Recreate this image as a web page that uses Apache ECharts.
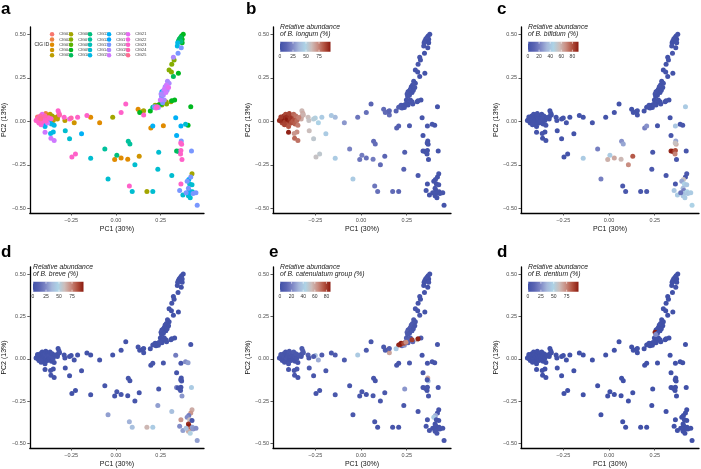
<!DOCTYPE html>
<html><head><meta charset="utf-8">
<script src="https://cdn.jsdelivr.net/npm/echarts@6/dist/echarts.min.js"></script>
<style>html,body{margin:0;padding:0;background:#fff}#c{width:701px;height:469px}</style>
</head><body><div id="c"></div>
<script>
// ---- data ----
const pc1 = [
0.376,0.367,0.361,0.370,0.354,0.349,0.363,0.345,0.370,0.343,
0.365,0.347,0.321,0.325,0.312,0.297,0.310,0.349,0.321,0.288,
0.297,0.282,0.275,0.294,0.270,0.265,0.257,0.279,0.252,0.265,
0.286,0.270,0.248,0.261,0.239,0.230,0.224,0.237,0.257,0.307,
0.328,0.283,0.252,0.255,0.215,0.206,0.219,0.234,0.246,0.279,
0.312,0.192,0.155,0.150,0.133,0.124,0.155,0.055,0.029,-0.018,
-0.091,-0.141,-0.162,-0.214,-0.250,-0.259,-0.233,-0.289,-0.285,-0.323,
-0.318,-0.325,-0.327,-0.315,-0.440,-0.436,-0.432,-0.430,-0.425,-0.422,
-0.420,-0.416,-0.412,-0.410,-0.406,-0.402,-0.400,-0.396,-0.392,-0.390,
-0.386,-0.382,-0.380,-0.376,-0.372,-0.368,-0.362,-0.360,-0.356,-0.350,
-0.345,-0.340,-0.446,-0.438,-0.418,-0.396,-0.396,-0.363,-0.345,-0.350,
-0.365,-0.283,-0.259,-0.192,-0.226,-0.246,-0.141,-0.062,-0.044,0.005,
-0.007,0.029,0.066,0.069,0.078,0.106,0.130,0.075,0.091,0.173,
0.206,0.234,0.239,0.195,0.206,0.265,0.312,0.334,0.418,0.389,
0.403,0.363,0.339,0.365,0.367,0.362,0.339,0.348,0.356,0.363,
0.361,0.369,0.422,0.425,0.418,0.407,0.398,0.412,0.425,0.363,
0.356,0.374,0.405,0.409,0.412,0.405,0.427,0.431,0.447,0.454,
0.392,0.415];
const pc2 = [
0.500,0.490,0.481,0.471,0.473,0.462,0.458,0.452,0.452,0.433,
0.423,0.391,0.368,0.352,0.328,0.295,0.284,0.276,0.257,0.230,
0.218,0.209,0.199,0.195,0.184,0.176,0.170,0.165,0.157,0.151,
0.178,0.123,0.123,0.107,0.094,0.084,0.077,0.080,0.094,0.113,
0.123,0.100,0.098,0.143,0.084,0.081,0.092,0.092,0.098,0.113,
0.118,0.059,0.036,0.056,0.050,0.069,0.060,0.100,0.050,0.023,
-0.008,0.023,0.034,0.023,0.019,0.013,-0.008,0.023,0.005,0.061,
0.046,0.027,0.013,0.036,0.010,0.000,0.020,-0.010,0.005,0.030,
0.015,-0.005,0.040,0.022,0.000,0.012,-0.018,0.030,0.045,0.002,
0.016,-0.010,0.032,0.020,0.000,0.040,0.015,-0.015,0.030,0.005,
-0.022,0.022,0.005,0.025,-0.020,-0.030,-0.063,-0.098,-0.110,-0.061,
-0.070,-0.054,-0.100,-0.071,-0.188,-0.205,-0.213,-0.159,-0.331,-0.195,
-0.220,-0.211,-0.218,-0.115,-0.130,-0.249,-0.201,-0.372,-0.404,-0.404,
-0.404,-0.276,-0.178,-0.038,-0.027,-0.025,-0.312,0.021,0.084,-0.017,
-0.023,-0.027,-0.082,-0.113,-0.132,-0.124,-0.170,-0.172,-0.176,-0.168,
-0.188,-0.220,-0.170,-0.301,-0.320,-0.335,-0.345,-0.360,-0.365,-0.360,
-0.398,-0.423,-0.385,-0.397,-0.413,-0.428,-0.405,-0.415,-0.410,-0.483,
-0.410,-0.440];
const cig = [
9,9,10,9,10,10,11,15,9,15,
18,18,19,7,7,7,7,9,10,19,
19,20,19,21,20,18,16,20,19,19,
19,19,20,18,9,23,22,19,6,6,
9,7,9,18,18,12,7,7,7,6,
9,9,23,6,9,3,6,23,23,6,
3,3,23,23,24,22,4,23,5,23,
23,5,5,24,23,22,24,23,22,24,
25,23,21,23,22,1,16,24,2,23,
22,20,3,23,16,5,23,15,6,5,
15,4,23,1,22,15,20,20,20,15,
15,14,14,16,23,23,14,12,14,11,
3,3,3,12,12,14,4,23,14,6,
14,14,14,3,16,3,14,16,9,14,
9,16,16,18,23,23,10,10,11,23,
23,23,18,6,18,16,18,14,14,23,
18,14,18,16,16,14,14,18,18,18,
18,14];
const longum = [
2,1,2,1,3,2,1,2,0,3,
2,1,3,2,4,2,3,1,2,3,
2,4,2,3,2,5,3,2,4,3,
2,4,3,5,4,6,5,4,3,3,
2,4,3,4,6,8,5,4,3,4,
3,10,15,12,14,14,12,12,16,18,
28,38,43,45,50,52,48,60,58,62,
65,68,66,63,92,95,90,88,94,91,
96,89,87,93,90,97,85,92,88,94,
90,86,89,91,84,80,86,82,78,80,
76,75,93,90,88,84,95,80,78,72,
70,60,55,45,55,58,45,22,45,20,
18,16,20,14,15,14,12,18,16,14,
12,10,8,10,9,6,5,3,2,3,
2,4,2,3,2,3,2,3,2,2,
3,2,2,3,2,3,2,2,3,2,
3,2,3,2,3,2,3,2,3,2,
3,2];
const bifidum = [
1,2,1,0,1,2,1,0,1,2,
1,3,1,2,1,0,2,1,2,1,
2,1,3,1,2,1,2,1,3,1,
1,2,1,2,1,2,1,2,1,2,
1,2,1,1,2,1,2,1,2,1,
2,1,2,1,2,1,2,1,2,1,
2,1,2,1,2,1,2,1,2,1,
2,1,2,1,2,1,2,1,2,1,
2,1,2,1,2,1,2,1,2,1,
2,1,2,1,2,1,2,1,2,1,
2,1,2,1,2,1,2,1,2,1,
2,1,2,1,2,1,42,20,20,42,
60,62,58,25,30,68,78,5,4,3,
4,5,3,20,25,2,3,2,42,2,
3,40,3,30,60,55,88,91,85,80,
70,3,3,5,3,55,30,45,40,3,
40,42,35,20,38,40,45,40,42,45,
15,42];
const breve = [
1,0,1,2,1,0,1,2,1,1,
0,2,1,1,2,1,1,0,1,2,
1,1,2,1,1,2,1,0,2,1,
1,2,1,2,1,2,1,1,2,1,
1,2,1,1,1,2,1,1,2,1,
1,1,2,1,1,2,1,1,2,1,
2,1,1,2,1,1,2,1,2,1,
2,1,1,2,1,2,1,1,2,1,
1,2,1,1,2,1,1,2,1,1,
2,1,1,2,1,1,2,1,1,2,
1,1,1,1,2,1,1,2,1,1,
2,1,1,2,1,1,2,3,30,3,
2,3,2,3,2,3,2,35,40,62,
45,30,3,2,3,3,40,20,2,25,
30,3,2,3,2,2,20,2,3,2,
3,28,45,65,70,20,25,60,3,70,
25,30,92,97,80,65,30,28,25,30,
40,50];
const catenulatum = [
1,2,1,0,2,1,0,1,2,1,
1,2,3,1,2,3,2,1,4,5,
3,4,6,3,5,6,4,5,8,4,
3,6,7,10,8,10,12,25,9,55,
5,12,8,5,80,85,87,78,65,80,
86,40,60,65,5,4,8,3,5,40,
5,6,4,6,35,5,30,8,4,5,
6,4,3,5,3,2,4,2,3,2,
4,2,3,2,4,3,2,3,4,2,
3,2,4,3,2,5,3,2,4,3,
2,4,2,3,2,3,2,3,2,4,
3,5,3,4,3,2,4,3,4,3,
3,2,4,3,2,3,4,3,2,3,
2,4,25,3,2,4,3,2,3,3,
2,2,3,60,35,3,2,3,2,3,
2,3,2,2,3,30,40,3,2,3,
2,3,2,3,2,3,2,3,2,3,
2,3];
const dentium = [
0,0,1,0,0,1,0,0,0,0,
1,0,0,0,0,1,0,0,0,1,
0,0,2,0,0,1,0,0,98,3,
0,0,0,0,0,0,0,0,0,0,
0,0,0,25,0,0,0,0,0,0,
0,0,0,0,0,0,0,0,0,0,
0,0,0,0,0,0,0,0,0,0,
0,0,0,0,0,0,0,0,0,0,
0,0,0,0,0,0,0,0,0,0,
0,0,0,0,0,0,0,0,0,0,
0,0,0,0,0,0,0,0,0,0,
0,0,0,0,0,0,0,0,0,0,
0,0,0,0,0,0,0,0,0,0,
0,0,0,0,0,0,0,0,0,0,
0,0,0,0,0,0,0,0,0,0,
0,0,0,0,0,0,0,0,0,0,
0,0,0,0,0,0,0,0,0,0,
0,0];
const cigNames = ['CIG01','CIG02','CIG03','CIG04','CIG05','CIG06','CIG07','CIG08','CIG09','CIG10',
 'CIG11','CIG12','CIG13','CIG14','CIG15','CIG16','CIG17','CIG18','CIG19','CIG20',
 'CIG21','CIG22','CIG23','CIG24','CIG25'];
const xTicks = [-0.25, 0, 0.25];
const yTicks = [-0.5, -0.25, 0, 0.25, 0.5];
const panelLetters = ['a','b','c','d','e','d'];
const speciesNames = ['B. longum','B. bifidum','B. breve','B. catenulatum group','B. dentium'];
const speciesValues = [longum, bifidum, breve, catenulatum, dentium];
const colorbarTicks = [[0,25,50,75],[0,20,40,60,80],[0,25,50,75],[0,20,40,60,80],[0,25,50,75]];

// ---- styling / layout ----
const FONT = 'Liberation Sans, Arial, Helvetica, sans-serif';
const gridPos = [[26,27],[273,27],[521,27],[26,267],[273,267],[521,267]];
const GW = 178, GH = 186;
const letterPos = [[1,14],[246,14],[497,14],[1,257],[269,257],[497,257]];
const gradCols = ['#4151A8','#5A64B3','#7F88C6','#A6B8DB','#ADD3E6','#CDBDBA','#C98C80','#B2513F','#8B1A0F'];

function hcl(h, c, l) {
  const hr = h * Math.PI / 180;
  const U = c * Math.cos(hr), V = c * Math.sin(hr);
  const Xn = 95.047, Yn = 100, Zn = 108.883;
  const den = Xn + 15 * Yn + 3 * Zn;
  const un = 4 * Xn / den, vn = 9 * Yn / den;
  const Y = Yn * Math.pow((l + 16) / 116, 3);
  const u = U / (13 * l) + un, v = V / (13 * l) + vn;
  const X = Y * 9 * u / (4 * v), Z = Y * (12 - 3 * u - 20 * v) / (4 * v);
  const x = X / 100, y = Y / 100, z = Z / 100;
  let rgb = [3.2404542*x - 1.5371385*y - 0.4985314*z,
            -0.9692660*x + 1.8760108*y + 0.0415560*z,
             0.0556434*x - 0.2040259*y + 1.0572252*z];
  rgb = rgb.map(t => { t = t <= 0.0031308 ? 12.92 * t : 1.055 * Math.pow(t, 1/2.4) - 0.055;
    return Math.round(Math.max(0, Math.min(1, t)) * 255); });
  return '#' + rgb.map(t => t.toString(16).padStart(2, '0')).join('');
}
const cigColors = cigNames.map((_, i) => hcl(15 + 14.4 * i, 100, 65));
const fmt = v => (v < 0 ? '\u2212' : '') + Math.abs(v).toFixed(2);

const grids = [], xAxes = [], yAxes = [], series = [], visualMaps = [], legends = [], graphics = [];
gridPos.forEach((p, i) => {
  grids.push({left: p[0], top: p[1], width: GW, height: GH, containLabel: false});
  xAxes.push({gridIndex: i, type: 'value', min: -0.481, max: 0.492,
    axisLine: {onZero: false, lineStyle: {color: '#000', width: 1.3}},
    axisTick: {customValues: xTicks, length: 2.5, lineStyle: {color: '#333', width: 0.8}},
    axisLabel: {customValues: xTicks, formatter: fmt, fontSize: 5.5, color: '#4d4d4d', margin: 4, fontFamily: FONT},
    splitLine: {show: false},
    name: 'PC1 (30%)', nameLocation: 'middle', nameGap: 13,
    nameTextStyle: {fontSize: 7, color: '#111', fontFamily: FONT}});
  yAxes.push({gridIndex: i, type: 'value', min: -0.527, max: 0.542,
    axisLine: {onZero: false, lineStyle: {color: '#000', width: 1.3}},
    axisTick: {customValues: yTicks, length: 2.5, lineStyle: {color: '#333', width: 0.8}},
    axisLabel: {customValues: yTicks, formatter: fmt, fontSize: 5.5, color: '#4d4d4d', margin: 4, fontFamily: FONT},
    splitLine: {show: false},
    name: 'PC2 (13%)', nameLocation: 'middle', nameGap: 19, nameRotate: 90,
    nameTextStyle: {fontSize: 7, color: '#111', fontFamily: FONT}});
  graphics.push({type: 'text', left: letterPos[i][0], top: letterPos[i][1] - 13,
    style: {text: panelLetters[i], font: 'bold 17px ' + FONT, fill: '#000'}});
});

// panel a: one series per CIG
cigNames.forEach((name, k) => {
  const data = [];
  for (let i = 0; i < pc1.length; i++) if (cig[i] === k + 1) data.push([pc1[i], pc2[i]]);
  series.push({type: 'scatter', name, xAxisIndex: 0, yAxisIndex: 0, data, symbolSize: 5,
    itemStyle: {color: cigColors[k], opacity: 1}, emphasis: {disabled: true}});
});
for (let c = 0; c < 5; c++) {
  legends.push({data: cigNames.slice(c * 5, c * 5 + 5), orient: 'vertical', left: 49.8 + c * 19, top: 32,
    padding: 0, itemWidth: 4.5, itemHeight: 4.5, itemGap: 0.75, icon: 'circle', selectedMode: false,
    textStyle: {fontSize: 3.8, lineHeight: 4.5, color: '#333', fontFamily: FONT}});
}
graphics.push({type: 'text', x: 34.5, y: 44.5, style: {text: 'CIG ID', font: '4.8px ' + FONT, fill: '#222', textVerticalAlign: 'middle'}});

// panels b-f
speciesValues.forEach((vals, k) => {
  const gi = k + 1;
  const data = pc1.map((x, i) => [x, pc2[i], vals[i]]);
  series.push({type: 'scatter', xAxisIndex: gi, yAxisIndex: gi, data, symbolSize: 5,
    itemStyle: {opacity: 1}, emphasis: {disabled: true}});
  const vmax = Math.max(...vals);
  visualMaps.push({type: 'continuous', show: false, seriesIndex: 25 + k, dimension: 2, min: 0, max: vmax,
    inRange: {color: gradCols}});
  const [gl, gt] = gridPos[gi];
  const bx = gl + 7, by = gt + 14.7, bw = 50.5, bh = 10;
  graphics.push({type: 'text', x: bx, y: gt + 0.5, style: {text: 'Relative abundance', font: 'italic 6.8px ' + FONT, fill: '#1a1a1a', textVerticalAlign: 'middle'}});
  graphics.push({type: 'text', x: bx, y: gt + 7.5, style: {text: 'of ' + speciesNames[k] + ' (%)', font: 'italic 6.8px ' + FONT, fill: '#1a1a1a', textVerticalAlign: 'middle'}});
  graphics.push({type: 'rect', shape: {x: bx, y: by, width: bw, height: bh},
    style: {fill: {type: 'linear', x: 0, y: 0, x2: 1, y2: 0,
      colorStops: gradCols.map((c, j) => ({offset: j / (gradCols.length - 1), color: c}))}}});
  colorbarTicks[k].forEach(t => {
    const tx = bx + t / vmax * bw;
    graphics.push({type: 'line', shape: {x1: tx, y1: by, x2: tx, y2: by + 2}, style: {stroke: '#fff', lineWidth: 0.6}});
    graphics.push({type: 'line', shape: {x1: tx, y1: by + bh - 2, x2: tx, y2: by + bh}, style: {stroke: '#fff', lineWidth: 0.6}});
    graphics.push({type: 'text', x: tx, y: gt + 30, style: {text: String(t), font: '5px ' + FONT, fill: '#333', textAlign: 'center', textVerticalAlign: 'middle'}});
  });
});

const chart = echarts.init(document.getElementById('c'), null, {renderer: 'canvas'});
chart.setOption({
  animation: false,
  backgroundColor: '#fff',
  textStyle: {fontFamily: FONT},
  grid: grids, xAxis: xAxes, yAxis: yAxes,
  legend: legends, visualMap: visualMaps, series, graphic: graphics
});
</script></body></html>
